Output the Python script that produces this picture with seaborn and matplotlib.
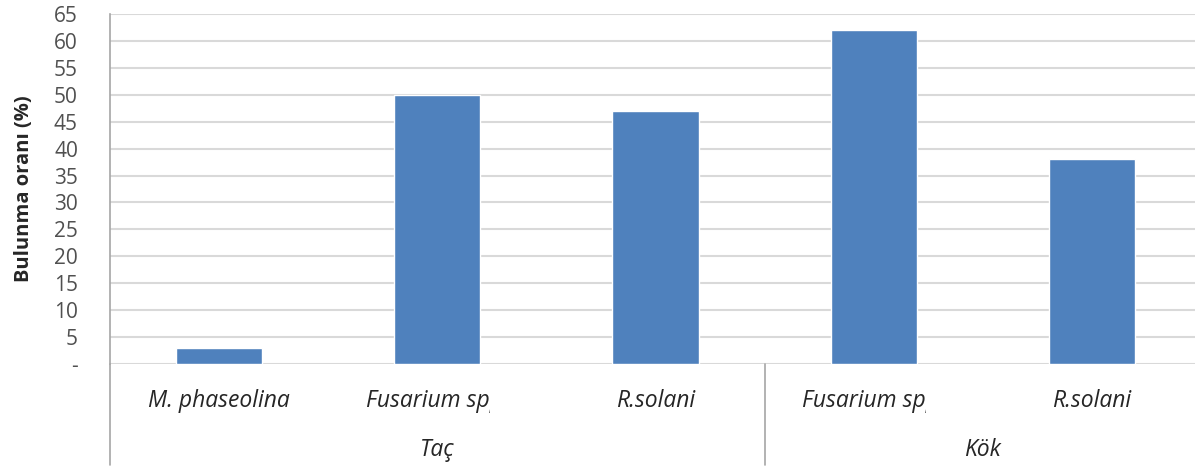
import matplotlib
matplotlib.use("Agg")
import matplotlib.pyplot as plt
from matplotlib.patches import Rectangle
import seaborn as sns
import pandas as pd

# Isolation frequency of pathogens by plant part
groups = ["Taç", "Taç", "Taç", "Kök", "Kök"]
species = ["M. phaseolina", "Fusarium spp.", "R.solani", "Fusarium spp.", "R.solani"]
rates = [3, 50, 47, 62, 38]
group_names = ["Taç", "Kök"]
y_ticks = [0, 5, 10, 15, 20, 25, 30, 35, 40, 45, 50, 55, 60, 65]
y_tick_labels = ["-"] + [str(v) for v in y_ticks[1:]]

sns.set_theme(style="white")
plt.rcParams["font.family"] = ["Open Sans", "DejaVu Sans"]

df = pd.DataFrame({
    "key": [f"{g}|{s}|{i}" for i, (g, s) in enumerate(zip(groups, species))],
    "rate": rates,
})

fig = plt.figure(figsize=(11.95, 4.72), dpi=100)
ax = fig.add_axes([0.092, 0.229, 0.913, 0.741])

sns.barplot(data=df, x="key", y="rate", color="#4F81BD", saturation=1,
            width=0.395, ax=ax, zorder=3)

ax.set_xlim(-0.5, len(rates) - 0.5)
ax.set_ylim(0, 65)
ax.set_yticks(y_ticks)
ax.set_yticklabels(y_tick_labels, color="#505050", fontsize=15)
ax.tick_params(axis="y", length=0, pad=23)
ax.yaxis.grid(True, color="#D9D9D9", linewidth=1.5, zorder=0)
ax.set_axisbelow(True)

for side in ["top", "right", "bottom"]:
    ax.spines[side].set_visible(False)
ax.spines["left"].set_color("#A6A6A6")
ax.spines["left"].set_linewidth(1.2)

ax.set_xlabel("")
ax.set_xticks([])
ax.set_ylabel("Bulunma oranı (%)", fontsize=14.5, fontweight="bold",
              color="#262626")
ax.yaxis.set_label_coords(-0.07, 0.5)

trans = ax.get_xaxis_transform()
# category labels; long names are cut near the right edge of their slot
for i, name in enumerate(species):
    t = ax.text(i, -0.105, name, transform=trans, ha="center", va="center",
                fontsize=16.5, style="italic", color="#262626", clip_on=True)
    right = 0.24 if "Fusarium" in name else 0.5
    clip = Rectangle((i - 0.5, -0.2), 0.5 + right, 0.2, transform=trans)
    t.set_clip_path(clip)

# group labels
ax.text(1, -0.245, group_names[0], transform=trans, ha="center", va="center",
        fontsize=16.5, style="italic", color="#262626", clip_on=False)
ax.text(3.5, -0.245, group_names[1], transform=trans, ha="center", va="center",
        fontsize=16.5, style="italic", color="#262626", clip_on=False)

# extended axis line and group separator
ax.plot([-0.5, -0.5], [0, -0.29], transform=trans, color="#A6A6A6",
        linewidth=1.2, clip_on=False)
ax.plot([2.5, 2.5], [0, -0.29], transform=trans, color="#A6A6A6",
        linewidth=1.2, clip_on=False)

fig.savefig("out.png", dpi=100)
